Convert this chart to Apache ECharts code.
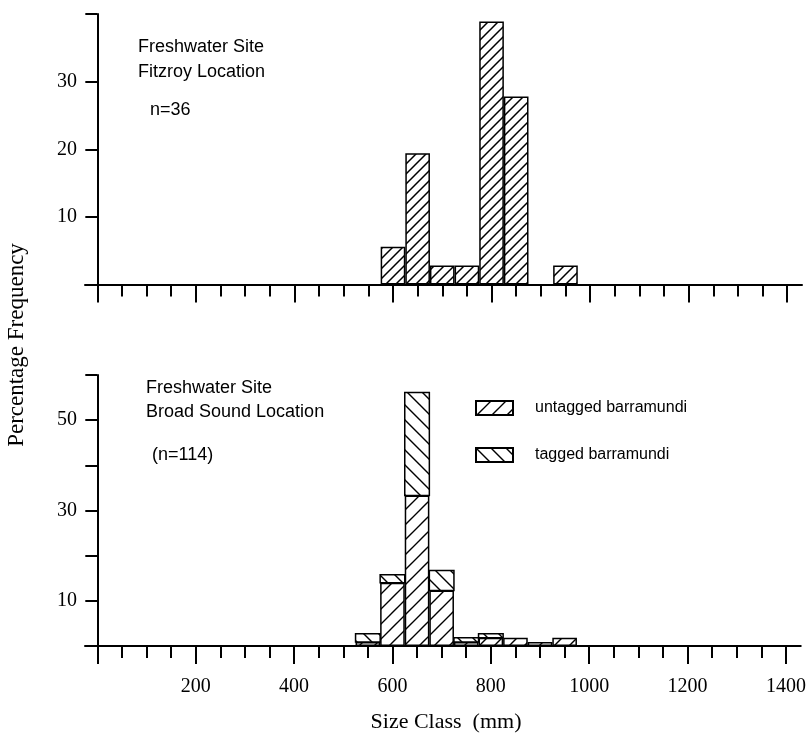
<!DOCTYPE html>
<html><head><meta charset="utf-8">
<script src="https://cdn.jsdelivr.net/npm/echarts@6/dist/echarts.min.js"></script>
<style>html,body{margin:0;padding:0;background:#fff}#c{width:809px;height:742px}</style>
</head><body><div id="c"></div>
<script>
// ---- data ----
const sizeClasses = [550, 600, 650, 700, 750, 800, 850, 900, 950];
const fitzroyPct = [0, 5.6, 19.4, 2.8, 2.8, 38.9, 27.8, 0, 2.8];
const broadUntaggedPct = [0.9, 14.0, 33.3, 12.3, 0.9, 1.8, 1.8, 0.9, 1.8];
const broadTaggedPct = [1.8, 1.8, 22.8, 4.4, 0.9, 0.9, 0, 0, 0];
const xMinorTicks = [0,50,100,150,200,250,300,350,400,450,500,550,600,650,700,750,800,850,900,950,1000,1050,1100,1150,1200,1250,1300,1350,1400];
const xMajorTicks = [0, 200, 400, 600, 800, 1000, 1200, 1400];
const xTickLabels = [200, 400, 600, 800, 1000, 1200, 1400];
const topYLabels = [10, 20, 30];
const bottomYLabels = [10, 30, 50];
const binWidth = 50;

// ---- layout ----
const X_MIN = -25, X_MAX = 1430;
const gridLeft = 85, gridRight = 7;
const gridWidth = 809 - gridLeft - gridRight;
const barPx = gridWidth / (X_MAX - X_MIN) * binWidth;

function hatch(size, dir, lw) {
  const c = document.createElement('canvas');
  c.width = size; c.height = size;
  const g = c.getContext('2d');
  g.fillStyle = '#fff'; g.fillRect(0, 0, size, size);
  g.strokeStyle = '#000'; g.lineWidth = lw; g.lineCap = 'square';
  g.beginPath();
  if (dir === '/') {
    g.moveTo(-2, size + 2); g.lineTo(size + 2, -2);
    g.moveTo(-2, 2); g.lineTo(2, -2);
    g.moveTo(size - 2, size + 2); g.lineTo(size + 2, size - 2);
  } else {
    g.moveTo(-2, -2); g.lineTo(size + 2, size + 2);
    g.moveTo(size - 2, -2); g.lineTo(size + 2, 2);
    g.moveTo(-2, size - 2); g.lineTo(2, size + 2);
  }
  g.stroke();
  return c;
}
const topPattern = { image: hatch(10, '/', 1.5), repeat: 'repeat' };
const untagPattern = { image: hatch(15, '/', 1.4), repeat: 'repeat' };
const tagPattern = { image: hatch(15, '\\', 1.4), repeat: 'repeat' };

const serif = 'Liberation Serif, Times New Roman, serif';
const sans = 'Liberation Sans, Arial, sans-serif';

const fitzroyData = sizeClasses.map((x, i) => [x, fitzroyPct[i]]).filter(p => p[1] > 0);
const untaggedData = sizeClasses.map((x, i) => [x, broadUntaggedPct[i]]).filter(p => p[1] > 0);
// [size class, untagged (base of stack), tagged]
const taggedData = sizeClasses.map((x, i) => [x, broadUntaggedPct[i], broadTaggedPct[i]]).filter(p => p[2] > 0);

function xAxesFor(gi, withLabels) {
  return [
    { gridIndex: gi, type: 'value', min: X_MIN, max: X_MAX, position: 'bottom',
      axisLine: { show: true, onZero: true, lineStyle: { color: '#000', width: 2 } },
      axisTick: { show: true, customValues: xMinorTicks, length: 12, lineStyle: { color: '#000', width: 2 } },
      axisLabel: { show: false }, splitLine: { show: false } },
    { gridIndex: gi, type: 'value', min: X_MIN, max: X_MAX, position: 'bottom',
      axisLine: { show: false, onZero: true },
      axisTick: { show: true, customValues: xMajorTicks, length: 18, lineStyle: { color: '#000', width: 2 } },
      axisLabel: { show: withLabels, customValues: xTickLabels, formatter: v => String(v), margin: 31, fontFamily: serif, fontSize: 20, color: '#000' },
      splitLine: { show: false } }
  ];
}
function yAxisFor(gi, max, labels) {
  return { gridIndex: gi, type: 'value', min: 0, max: max, interval: 10,
    axisLine: { show: true, onZero: true, lineStyle: { color: '#000', width: 2 } },
    axisTick: { show: true, length: 12, lineStyle: { color: '#000', width: 2 } },
    axisLabel: { formatter: v => labels.includes(v) ? String(v) : '', margin: 8, fontFamily: serif, fontSize: 20, color: '#000' },
    splitLine: { show: false } };
}

const chart = echarts.init(document.getElementById('c'), null, { renderer: 'canvas' });
chart.setOption({
  animation: false,
  backgroundColor: '#fff',
  grid: [
    { left: gridLeft, width: gridWidth, top: 14, height: 270.5 },
    { left: gridLeft, width: gridWidth, top: 375, height: 271 }
  ],
  xAxis: [...xAxesFor(0, false), ...xAxesFor(1, true)],
  yAxis: [yAxisFor(0, 40, topYLabels), yAxisFor(1, 60, bottomYLabels)],
  legend: {
    orient: 'vertical', left: 470, top: 395, itemWidth: 37, itemHeight: 14, itemGap: 31,
    icon: 'rect',
    data: ['untagged barramundi', 'tagged barramundi'],
    textStyle: { fontFamily: sans, fontSize: 16, color: '#000', padding: [0, 0, 0, 17] }
  },
  series: [
    { name: 'Fitzroy', type: 'bar', xAxisIndex: 0, yAxisIndex: 0, barWidth: barPx,
      data: fitzroyData,
      itemStyle: { color: topPattern, borderColor: '#000', borderWidth: 1.5 } },
    { name: 'untagged barramundi', type: 'bar', xAxisIndex: 2, yAxisIndex: 1, barWidth: barPx,
      data: untaggedData,
      itemStyle: { color: untagPattern, borderColor: '#000', borderWidth: 1.5 } },
    { name: 'tagged barramundi', type: 'custom', xAxisIndex: 2, yAxisIndex: 1,
      data: taggedData,
      encode: { x: 0, y: 2 },
      itemStyle: { color: tagPattern, borderColor: '#000', borderWidth: 1.5 },
      renderItem: (params, api) => {
        const x = api.value(0), base = api.value(1), h = api.value(2);
        const p0 = api.coord([x - binWidth / 2, base]);
        const p1 = api.coord([x + binWidth / 2, base + h]);
        return { type: 'rect',
          shape: { x: p0[0], y: p1[1], width: p1[0] - p0[0], height: p0[1] - p1[1] },
          style: { fill: tagPattern, stroke: '#000', lineWidth: 1.5 } };
      } }
  ],
  graphic: [
    { type: 'text', x: 138, y: 47, style: { text: 'Freshwater Site', font: '18px ' + sans, fill: '#000', verticalAlign: 'middle' } },
    { type: 'text', x: 138, y: 72, style: { text: 'Fitzroy Location', font: '18px ' + sans, fill: '#000', verticalAlign: 'middle' } },
    { type: 'text', x: 150, y: 110, style: { text: 'n=36', font: '18px ' + sans, fill: '#000', verticalAlign: 'middle' } },
    { type: 'text', x: 146, y: 388, style: { text: 'Freshwater Site', font: '18px ' + sans, fill: '#000', verticalAlign: 'middle' } },
    { type: 'text', x: 146, y: 412, style: { text: 'Broad Sound Location', font: '18px ' + sans, fill: '#000', verticalAlign: 'middle' } },
    { type: 'text', x: 152, y: 455, style: { text: '(n=114)', font: '18px ' + sans, fill: '#000', verticalAlign: 'middle' } },
    { type: 'text', x: 446, y: 722, style: { text: 'Size Class  (mm)', font: '22px ' + serif, fill: '#000', align: 'center', verticalAlign: 'middle' } },
    { type: 'text', x: 17, y: 345, rotation: Math.PI / 2, style: { text: 'Percentage Frequency', font: '23px ' + serif, fill: '#000', align: 'center', verticalAlign: 'middle' } }
  ]
});
</script>
</body></html>
